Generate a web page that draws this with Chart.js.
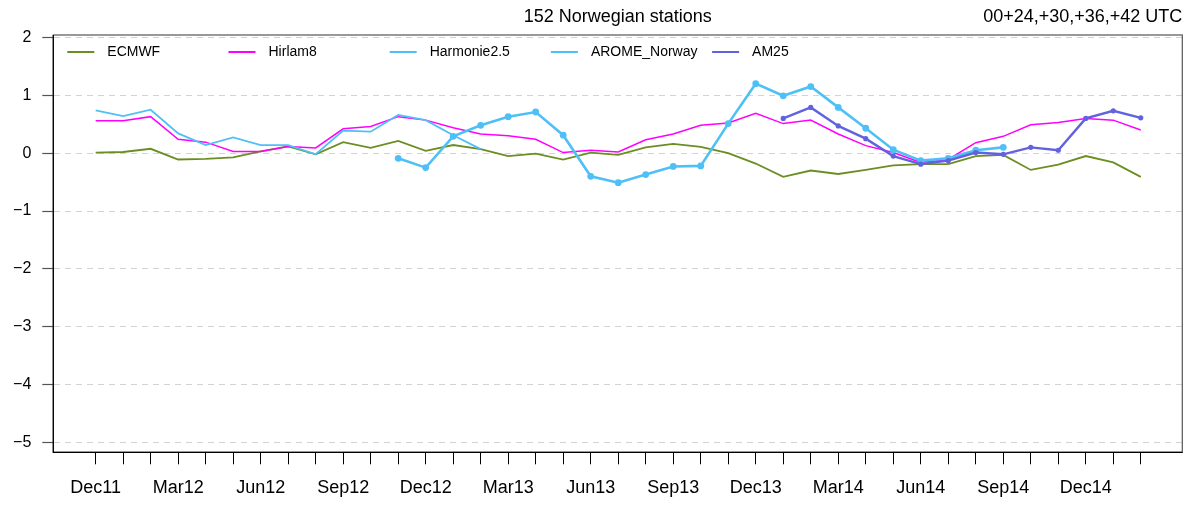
<!DOCTYPE html>
<html>
<head>
<meta charset="utf-8">
<script src="https://cdn.jsdelivr.net/npm/chart.js@4/dist/chart.umd.min.js"></script>
<style>
html,body{margin:0;padding:0;background:#fff;}
#wrap{width:1197px;height:505px;position:relative;}
</style>
</head>
<body>
<div id="wrap"><canvas id="c" width="1197" height="505"></canvas></div>
<script>
const months = ['Dec11','Jan12','Feb12','Mar12','Apr12','May12','Jun12','Jul12','Aug12','Sep12','Oct12','Nov12',
  'Dec12','Jan13','Feb13','Mar13','Apr13','May13','Jun13','Jul13','Aug13','Sep13','Oct13','Nov13',
  'Dec13','Jan14','Feb14','Mar14','Apr14','May14','Jun14','Jul14','Aug14','Sep14','Oct14','Nov14',
  'Dec14','Jan15','Feb15'];
const labelledMonths = ['Dec','Mar','Jun','Sep'];
const yTicks = [-5,-4,-3,-2,-1,0,1,2];

const ecmwf = [0.01,0.02,0.075,-0.11,-0.10,-0.075,0.03,0.115,-0.02,0.19,0.09,0.21,0.04,
  0.14,0.07,-0.05,-0.01,-0.11,0.01,-0.03,0.10,0.16,0.11,0.0,-0.18,-0.41,
  -0.30,-0.36,-0.29,-0.21,-0.19,-0.19,-0.05,-0.03,-0.29,-0.20,-0.05,-0.16,-0.41];
const hirlam8 = [0.56,0.56,0.63,0.24,0.19,0.03,0.03,0.115,0.09,0.42,0.46,0.63,0.57,
  0.44,0.33,0.30,0.24,0.01,0.05,0.02,0.23,0.33,0.48,0.52,0.69,0.51,
  0.57,0.33,0.13,0.01,-0.16,-0.11,0.18,0.29,0.49,0.53,0.60,0.57,0.40];
const harmonie = [0.74,0.64,0.75,0.34,0.14,0.27,0.14,0.14,-0.02,0.39,0.37,0.66,0.57,
  0.31,0.07,null,null,null,null,null,null,null,null,null,null,null,
  null,null,null,null,null,null,null,null,null,null,null,null,null];
const arome = [null,null,null,null,null,null,null,null,null,null,null,-0.09,-0.25,
  0.29,0.48,0.63,0.71,0.31,-0.40,-0.51,-0.37,-0.23,-0.22,0.51,1.20,0.99,
  1.15,0.79,0.43,0.06,-0.13,-0.09,0.05,0.10,null,null,null,null,null];
const am25 = [null,null,null,null,null,null,null,null,null,null,null,null,null,
  null,null,null,null,null,null,null,null,null,null,null,null,0.60,
  0.79,0.47,0.25,-0.05,-0.19,-0.13,0.01,-0.02,0.10,0.05,0.60,0.73,0.61];

const title = '152 Norwegian stations';
const subtitle = '00+24,+30,+36,+42 UTC';
const FONT = '"Liberation Sans", Arial, Helvetica, sans-serif';

function pts(arr){ return arr.map((v,i)=>({x:i,y:v})); }

const C_EC = '#6B8E23', C_HI = '#FF00FF', C_HA = '#4FC0F6', C_AR = '#4FC0F6', C_AM = '#6262DE';

const datasets = [
  {label:'ECMWF', data:pts(ecmwf), borderColor:C_EC, backgroundColor:C_EC, borderWidth:1.8, pointRadius:0, order:5},
  {label:'Hirlam8', data:pts(hirlam8), borderColor:C_HI, backgroundColor:C_HI, borderWidth:1.5, pointRadius:0, order:4},
  {label:'Harmonie2.5', data:pts(harmonie), borderColor:C_HA, backgroundColor:C_HA, borderWidth:1.8, pointRadius:0, order:3},
  {label:'AROME_Norway', data:pts(arome), borderColor:C_AR, backgroundColor:C_AR, borderWidth:2.6, pointRadius:3.4, pointBorderWidth:0, order:2},
  {label:'AM25', data:pts(am25), borderColor:C_AM, backgroundColor:C_AM, borderWidth:2.4, pointRadius:2.6, pointBorderWidth:0, order:1}
];

const decor = {
  id:'decor',
  afterDraw(chart){
    const ctx = chart.ctx, a = chart.chartArea;
    ctx.save();
    ctx.strokeStyle = '#555';
    ctx.lineWidth = 1.2;
    ctx.strokeRect(a.left, a.top, a.right - a.left, a.bottom - a.top);
    ctx.strokeStyle = '#000';
    ctx.lineWidth = 1.2;
    ctx.beginPath(); ctx.moveTo(a.left, a.top); ctx.lineTo(a.left, a.bottom); ctx.lineTo(a.right, a.bottom); ctx.stroke();
    ctx.fillStyle = '#000';
    ctx.font = '18px ' + FONT;
    ctx.textBaseline = 'middle';
    ctx.textAlign = 'center';
    ctx.fillText(title, (a.left + a.right)/2, 17);
    ctx.textAlign = 'right';
    ctx.fillText(subtitle, a.right, 17);
    ctx.font = '14px ' + FONT;
    ctx.textAlign = 'left';
    const y = 52;
    chart.data.datasets.forEach((ds, i) => {
      const x0 = a.left + 14 + i * 161.2;
      ctx.strokeStyle = ds.borderColor;
      ctx.lineWidth = 2;
      ctx.beginPath(); ctx.moveTo(x0, y); ctx.lineTo(x0 + 27, y); ctx.stroke();
      ctx.fillStyle = '#000';
      ctx.fillText(ds.label, x0 + 40, y);
    });
    ctx.restore();
  }
};

new Chart(document.getElementById('c'), {
  type:'line',
  data:{datasets},
  options:{
    responsive:false,
    animation:false,
    devicePixelRatio:1,
    layout:{padding:{top:35, right:14.7, left:0, bottom:0}},
    plugins:{legend:{display:false}, title:{display:false}, tooltip:{enabled:false}},
    elements:{line:{tension:0}},
    scales:{
      x:{
        type:'linear', min:-1.54, max:39.51,
        afterBuildTicks(s){ s.ticks = months.map((m,i)=>({value:i})); },
        afterFit(s){ s.height = 52.7; },
        ticks:{
          autoSkip:false, maxRotation:0, minRotation:0, padding:13,
          color:'#000', font:{size:18, family:FONT},
          callback(v){ const m = months[v]; return (m && labelledMonths.includes(m.slice(0,3))) ? m : ''; }
        },
        grid:{drawOnChartArea:false, drawTicks:true, tickLength:12, tickColor:'#000', tickWidth:1},
        border:{display:true, color:'#000', width:1}
      },
      y:{
        type:'linear', min:-5.166, max:2.04,
        afterBuildTicks(s){ s.ticks = yTicks.map(v=>({value:v})); },
        afterFit(s){ s.width = 53.3; },
        ticks:{
          autoSkip:false, padding:11, color:'#000', font:{size:16, family:FONT},
          callback(v){ return v < 0 ? '\u2212' + Math.abs(v) : String(v); }
        },
        grid:{drawOnChartArea:true, drawTicks:true, tickLength:11, color:'#d3d3d3', lineWidth:1, tickColor:'#555', tickWidth:1.2, tickBorderDash:[]},
        border:{display:true, color:'#000', width:1, dash:[6,5]}
      }
    }
  },
  plugins:[decor]
});
</script>
</body>
</html>
